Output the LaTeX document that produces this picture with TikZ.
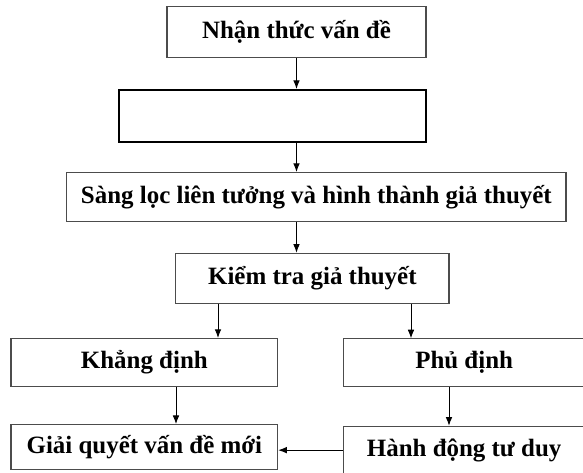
\documentclass[tikz,border=0pt]{standalone}
\usepackage{fontspec}
\setmainfont{Liberation Serif}
\usetikzlibrary{arrows.meta}

\tikzset{every picture/.style={line width=0.75pt}}
\tikzset{
  box/.style={draw=black!70, line width=0.8pt, rectangle, inner sep=0pt, align=center, font=\fontsize{18.7}{22}\selectfont\bfseries},
  emptybox/.style={draw=black, line width=1.5pt, rectangle, inner sep=0pt},
  flow/.style={-{Latex[length=6.5pt,width=5pt]}, line width=0.75pt, black}
}

\begin{document}
\begin{tikzpicture}[x=0.75pt,y=0.75pt,yscale=-1,xscale=1]
		\useasboundingbox (0,0) rectangle (583,473);
		\clip (0,0) rectangle (583,473);
		
		%Shape: Rectangle [id:nhan] 
		\node [box, minimum width=194.25pt, minimum height=38.4pt] (nhan) at (296.5,32.1) {Nhận thức vấn đề};
		%Shape: Rectangle [id:trong] 
		\node [emptybox, minimum width=230.25pt, minimum height=38.8pt] (trong) at (272.5,115.85) {};
		%Shape: Rectangle [id:sang] 
		\node [box, minimum width=374.5pt, minimum height=36.75pt] (sang) at (316.35,197) {Sàng lọc liên tưởng và hình thành giả thuyết};
		%Shape: Rectangle [id:kiem] 
		\node [box, minimum width=205pt, minimum height=37.5pt] (kiem) at (312.35,278.3) {Kiểm tra giả thuyết};
		%Shape: Rectangle [id:khang] 
		\node [box, minimum width=200pt, minimum height=35.85pt] (khang) at (144.35,362.4) {Khẳng định};
		%Shape: Rectangle [id:phu] 
		\node [box, minimum width=181.3pt, minimum height=35.5pt] (phu) at (464.15,362.6) {Phủ định};
		%Shape: Rectangle [id:giai] 
		\node [box, minimum width=200pt, minimum height=33.75pt] (giai) at (144.35,447.2) {Giải quyết vấn đề mới};
		%Shape: Rectangle [id:hanh] 
		\node [box, minimum width=181.3pt, minimum height=35.8pt] (hanh) at (464.15,450.15) {Hành động tư duy};
		
		%Straight Lines [id:a1] 
		\draw [flow] (nhan.south) -- (nhan.south |- trong.north) ;
		%Straight Lines [id:a2] 
		\draw [flow] (nhan.south |- trong.south) -- (nhan.south |- sang.north) ;
		%Straight Lines [id:a3] 
		\draw [flow] (nhan.south |- sang.south) -- (nhan.south |- kiem.north) ;
		%Straight Lines [id:a4] 
		\draw [flow] (218,0 |- kiem.south) -- (218,0 |- khang.north) ;
		%Straight Lines [id:a5] 
		\draw [flow] (411,0 |- kiem.south) -- (411,0 |- phu.north) ;
		%Straight Lines [id:a6] 
		\draw [flow] (176,0 |- khang.south) -- (176,0 |- giai.north) ;
		%Straight Lines [id:a7] 
		\draw [flow] (449,0 |- phu.south) -- (449,0 |- hanh.north) ;
		%Straight Lines [id:a8] 
		\draw [flow] (hanh.west) -- (giai.east |- hanh.west) ;
		
	\end{tikzpicture}
\end{document}
